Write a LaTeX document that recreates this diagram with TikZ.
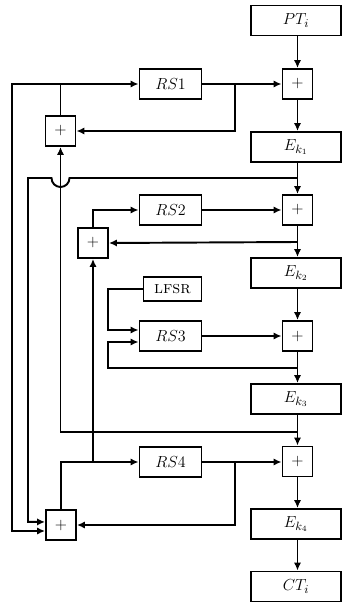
\documentclass[tikz,border=0pt]{standalone}
\usetikzlibrary{arrows.meta}
\begin{document}
\begin{tikzpicture}[x=0.75pt,y=-0.75pt,
  every path/.style={line width=1.45pt},
  blk/.style={draw,line width=1.45pt,inner sep=0pt,font=\fontsize{12.5}{14}\selectfont},
  ebox/.style={blk,minimum width=67.5pt,minimum height=22.5pt},
  rsbox/.style={blk,minimum width=46.5pt,minimum height=22.5pt},
  pbox/.style={blk,minimum width=22.5pt,minimum height=22.5pt},
  lbox/.style={blk,minimum width=43.5pt,minimum height=18pt,font=\fontsize{13}{15}\selectfont},
  arr/.style={-{Latex[length=6pt,width=5.5pt]}}]
\useasboundingbox (0,0) rectangle (342,605);
% right column
\node[ebox] (PT) at (296,20.5) {$PT_i$};
\node[pbox] (A1) at (297.5,84) {$+$};
\node[ebox] (E1) at (296,147) {$E_{k_1}$};
\node[pbox] (A2) at (297.5,210) {$+$};
\node[ebox] (E2) at (296,273) {$E_{k_2}$};
\node[pbox] (A3) at (297.5,336) {$+$};
\node[ebox] (E3) at (296,399) {$E_{k_3}$};
\node[pbox] (A4) at (297.5,461.5) {$+$};
\node[ebox] (E4) at (296,524) {$E_{k_4}$};
\node[ebox] (CT) at (296,586.5) {$CT_i$};
% middle
\node[rsbox] (RS1) at (170.5,84) {$RS1$};
\node[rsbox] (RS2) at (170.5,210) {$RS2$};
\node[lbox] (LF) at (172.5,289) {\textsc{lfsr}};
\node[rsbox] (RS3) at (170.5,336) {$RS3$};
\node[rsbox] (RS4) at (170.5,462) {$RS4$};
% left adders
\node[pbox] (L1) at (60.5,131) {$+$};
\node[pbox] (L2) at (93,243) {$+$};
\node[pbox] (B) at (61,525) {$+$};
% coordinates
\coordinate (c1) at (235,84);
\coordinate (c2) at (297.5,178);
\coordinate (c3) at (297.5,242);
\coordinate (c4) at (297.5,368);
\coordinate (c5) at (297.5,432);
\coordinate (c6) at (235,462);
\coordinate (c7) at (93,462);
\coordinate (c8) at (60.5,84);
% vertical chain
\draw[arr] (PT.south -| A1) -- (A1.north);
\draw[arr] (A1.south) -- (A1.south |- E1.north);
\draw[arr] (E1.south -| A2) -- (A2.north);
\draw[arr] (A2.south) -- (A2.south |- E2.north);
\draw[arr] (E2.south -| A3) -- (A3.north);
\draw[arr] (A3.south) -- (A3.south |- E3.north);
\draw[arr] (E3.south -| A4) -- (A4.north);
\draw[arr] (A4.south) -- (A4.south |- E4.north);
\draw[arr] (E4.south -| A4) -- (CT.north -| A4);
% RS1 stage
\draw[arr] (RS1.east) -- (A1.west);
\draw[arr] (c1) |- (L1.east);
\draw[arr] (L1.north) |- (RS1.west);
\draw[arr] (c8) -- (12,84) |- ([yshift=-4.5pt]B.west);
% jump line
\draw[arr] (c2) -- (69.5,178) arc[start angle=0,end angle=180,radius=9] -- (28,178) |- ([yshift=2.3pt]B.west);
% RS2 stage
\draw[arr] (RS2.east) -- (A2.west);
\draw[arr] (c3) -- (L2.east);
\draw[arr] (L2.north) |- (RS2.west);
% RS3 stage
\draw[arr] (LF.west) -- (108,289) |- ([yshift=4.5pt]RS3.west);
\draw[arr] (RS3.east) -- (A3.west);
\draw[arr] (c4) -- (108,368) |- ([yshift=-4.5pt]RS3.west);
% RS4 stage
\draw[arr] (c5) -| (L1.south);
\draw[arr] (RS4.east) -- (RS4.east -| A4.west);
\draw[arr] (c6) |- (B.east);
\draw[arr] (B.north) |- (RS4.west);
\draw[arr] (c7) -- (L2.south);
\end{tikzpicture}
\end{document}
